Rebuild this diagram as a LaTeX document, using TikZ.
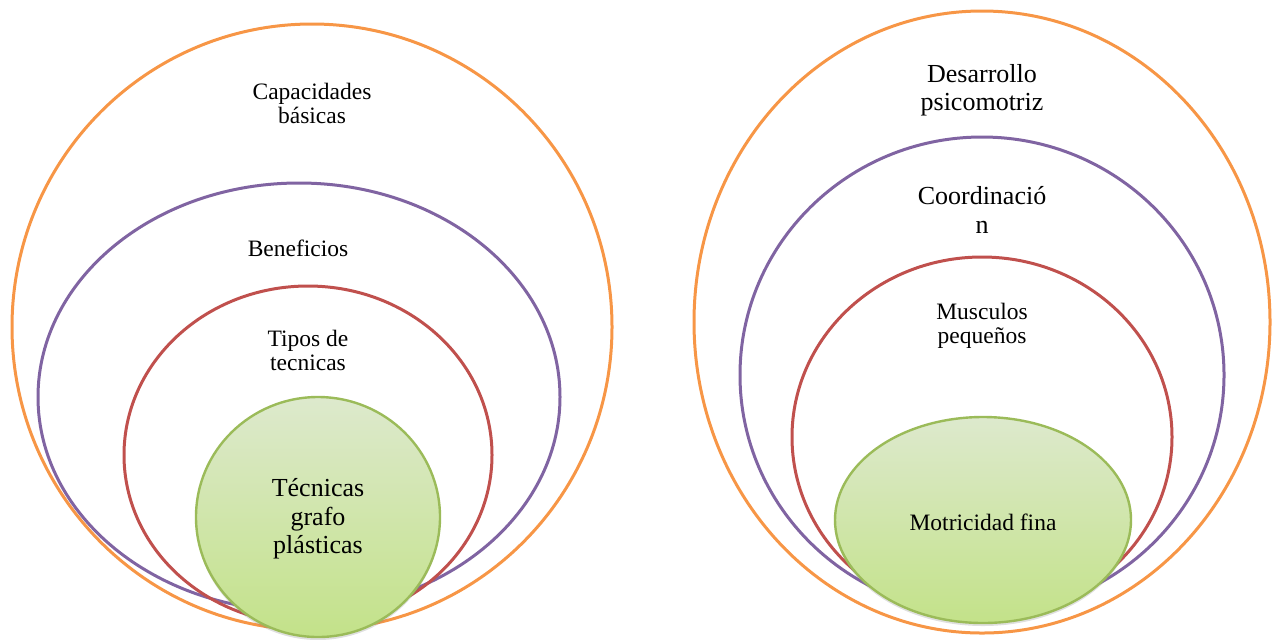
\documentclass[tikz,border=0pt]{standalone}
\usepackage{fontspec}
\setmainfont{Liberation Serif}
\usetikzlibrary{shapes.geometric,shadows}
\definecolor{cOrange}{HTML}{F79646}
\definecolor{cPurple}{HTML}{8064A2}
\definecolor{cRed}{HTML}{C0504D}
\definecolor{cGreen}{HTML}{9BBB59}
\definecolor{gTop}{HTML}{DDE9CD}
\definecolor{gBot}{HTML}{C3E289}
\tikzset{
  ring/.style={ellipse, draw=#1, line width=1.5pt, inner sep=0pt, fill=none},
  core/.style={ellipse, draw=cGreen, line width=1.2pt, inner sep=0pt,
    top color=gTop, bottom color=gBot,
    drop shadow={opacity=0.25, shadow xshift=0pt, shadow yshift=-1.5pt}},
  lbl/.style={font=\fontsize{11.75}{12}\selectfont, align=center, inner sep=0pt, text=black},
  lblbig/.style={font=\fontsize{13}{14.2}\selectfont, align=center, inner sep=0pt, text=black}
}
\begin{document}
\begin{tikzpicture}[x=0.5pt,y=-0.5pt]
\useasboundingbox (0,0) rectangle (1273,639);
% left diagram
\node[ring=cOrange, minimum width=300pt, minimum height=303pt] (lo) at (312,327) {};
\node[ring=cPurple, minimum width=261pt, minimum height=214pt] (lp) at (299,397) {};
\node[ring=cRed, minimum width=184pt, minimum height=169pt] (lr) at (308,455) {};
\node[core, minimum width=122pt, minimum height=120pt] (lg) at (318,517) {};
\node[lbl] (t1) at (312,103) {Capacidades\\básicas};
\node[lbl] (t2) at (298,248) {Beneficios};
\node[lbl] (t3) at (308,350) {Tipos de\\tecnicas};
\node[lblbig] (t4) at (318,519) {Técnicas\\grafo\\plásticas};
% right diagram
\node[ring=cOrange, minimum width=288pt, minimum height=311pt] (ro) at (982,322) {};
\node[ring=cPurple, minimum width=242pt, minimum height=238pt] (rp) at (982,375) {};
\node[ring=cRed, minimum width=190pt, minimum height=180pt] (rr) at (982,437) {};
\node[core, minimum width=148pt, minimum height=103pt] (rg) at (983,520) {};
\node[lblbig] (u1) at (982,90) {Desarrollo\\psicomotriz};
\node[lblbig] (u2) at (982,210) {Coordinació\\n};
\node[lbl] (u3) at (982,326) {Musculos\\pequeños};
\node[lbl] (u4) at (983,522) {Motricidad fina};
\end{tikzpicture}
\end{document}
